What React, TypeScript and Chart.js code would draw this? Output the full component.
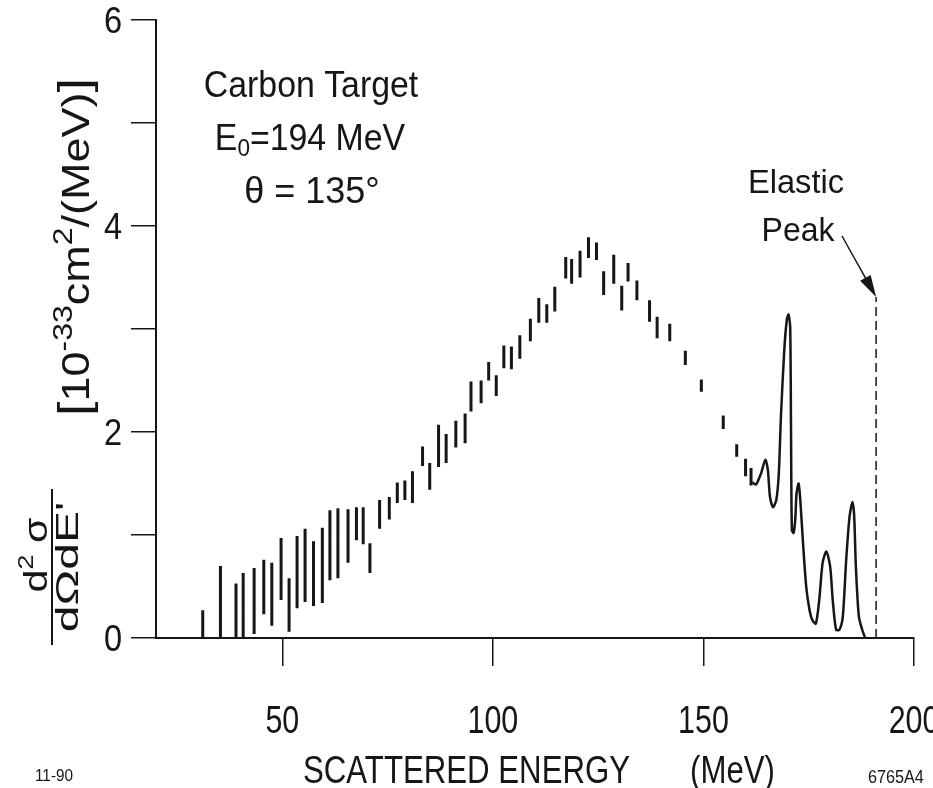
import React, { useEffect, useRef } from "react";
import { Chart, registerables } from "chart.js";

Chart.register(...registerables);

// ---- data ----
const energies = [31.1, 35.3, 39.0, 40.7, 43.3, 45.6, 47.5, 49.7, 51.6, 53.5, 55.4, 57.4, 59.5, 61.3, 63.2, 65.6, 67.6, 69.2, 70.8, 73.1, 75.4, 77.3, 79.1, 80.9, 83.3, 85.0, 87.1, 88.9, 91.2, 93.4, 94.8, 97.2, 99.0, 100.8, 102.6, 104.4, 106.4, 108.9, 110.9, 112.8, 114.7, 117.3, 118.7, 120.7, 122.7, 124.6, 126.3, 128.7, 130.6, 132.1, 134.2, 137.2, 139.0, 142.0, 145.7, 149.5, 154.7, 157.9, 160.0, 161.3];
const lowVals = [0, 0, 0, 0, 0.04, 0.23, 0.12, 0.37, 0.06, 0.29, 0.35, 0.31, 0.34, 0.56, 0.58, 0.73, 0.95, 0.91, 0.63, 1.06, 1.15, 1.31, 1.34, 1.31, 1.67, 1.44, 1.66, 1.70, 1.85, 1.89, 2.20, 2.28, 2.50, 2.35, 2.62, 2.61, 2.71, 2.88, 3.06, 3.06, 3.17, 3.49, 3.44, 3.50, 3.69, 3.67, 3.33, 3.44, 3.18, 3.46, 3.28, 3.07, 2.91, 2.88, 2.65, 2.39, 2.03, 1.76, 1.57, 1.48];
const highVals = [0.27, 0.70, 0.53, 0.63, 0.68, 0.76, 0.73, 0.97, 0.58, 0.99, 1.06, 0.94, 1.07, 1.24, 1.26, 1.25, 1.27, 1.27, 0.92, 1.34, 1.37, 1.51, 1.53, 1.62, 1.86, 1.70, 2.07, 1.98, 2.11, 2.18, 2.49, 2.50, 2.68, 2.55, 2.84, 2.83, 2.94, 3.10, 3.30, 3.24, 3.41, 3.70, 3.68, 3.76, 3.89, 3.84, 3.56, 3.72, 3.42, 3.64, 3.47, 3.28, 3.12, 3.05, 2.79, 2.51, 2.16, 1.88, 1.74, 1.65];

const curveE = [161.6, 162.5, 162.9, 163.7, 164.7, 165.3, 165.8, 166.5, 167.3, 167.9, 168.4, 169.2, 169.8, 170.2, 170.6, 170.8, 171.0, 171.4, 171.8, 172.1, 172.6, 173.0, 173.6, 174.4, 175.2, 175.9, 176.7, 177.5, 178.3, 179.2, 180.1, 180.7, 181.5, 182.3, 183.1, 183.9, 184.7, 185.4, 185.8, 186.2, 186.9, 187.7, 188.4];
const curveY = [1.51, 1.49, 1.52, 1.60, 1.73, 1.63, 1.37, 1.27, 1.34, 1.60, 2.15, 2.80, 3.09, 3.14, 3.02, 1.99, 1.05, 1.02, 1.15, 1.40, 1.50, 1.34, 0.95, 0.50, 0.27, 0.17, 0.14, 0.37, 0.73, 0.84, 0.69, 0.37, 0.08, 0.08, 0.21, 0.76, 1.18, 1.32, 1.18, 0.69, 0.21, 0.08, 0.0];

const elasticE = [191.0, 191.0];
const elasticY = [0, 3.31];

const xTickValues = [50, 100, 150, 200];
const xTickLabels = ["50", "100", "150", "200"];
const yTickValues = [0, 1, 2, 3, 4, 5, 6];
const yLabelValues = [0, 2, 4, 6];
const yLabelTexts = ["0", "2", "4", "6"];

const FONT = "'Liberation Sans', Arial, sans-serif";
const INK = "#161616";

type Seg = { t: string; size: number; dy?: number };

function measureRich(ctx: CanvasRenderingContext2D, segs: Seg[]) {
  return segs.reduce((acc, s) => {
    ctx.font = `${s.size}px ${FONT}`;
    return acc + ctx.measureText(s.t).width;
  }, 0);
}

function drawRich(ctx: CanvasRenderingContext2D, segs: Seg[], x: number, y: number, align: string, sx: number) {
  const widths = segs.map((s) => {
    ctx.font = `${s.size}px ${FONT}`;
    return ctx.measureText(s.t).width * sx;
  });
  const total = widths.reduce((a, b) => a + b, 0);
  let cx = align === "center" ? x - total / 2 : align === "right" ? x - total : x;
  segs.forEach((s, i) => {
    ctx.save();
    ctx.font = `${s.size}px ${FONT}`;
    ctx.textAlign = "left";
    ctx.textBaseline = "alphabetic";
    ctx.translate(cx, y + (s.dy || 0));
    ctx.scale(sx, 1);
    ctx.fillText(s.t, 0, 0);
    ctx.restore();
    cx += widths[i];
  });
  return total;
}

function drawText(ctx: CanvasRenderingContext2D, t: string, x: number, y: number, size: number, align = "left", sx = 0.82) {
  return drawRich(ctx, [{ t, size }], x, y, align, sx);
}

const annotPlugin = {
  id: "annot",
  afterDraw(chart: any) {
    const ctx: CanvasRenderingContext2D = chart.ctx;
    const xs = chart.scales.x;
    const ys = chart.scales.y;
    ctx.save();
    ctx.fillStyle = INK;
    ctx.strokeStyle = INK;

    // y tick labels
    yLabelValues.forEach((v, i) => {
      const py = ys.getPixelForValue(v);
      drawText(ctx, yLabelTexts[i], 122, py + 13, 37, "right", 0.88);
    });
    // x tick labels
    xTickValues.forEach((v, i) => {
      const px = xs.getPixelForValue(v);
      drawText(ctx, xTickLabels[i], px, 733, 38, "center", 0.8);
    });

    // x title
    drawText(ctx, "SCATTERED ENERGY", 303, 783, 39, "left", 0.8);
    drawText(ctx, "(MeV)", 775, 783, 39, "right", 0.8);
    drawText(ctx, "11-90", 35, 781, 17, "left", 0.9);
    drawText(ctx, "6765A4", 868, 783, 18, "left", 0.9);

    // annotations
    drawText(ctx, "Carbon Target", 311, 97, 36, "center", 0.94);
    drawRich(ctx, [{ t: "E", size: 36 }, { t: "0", size: 24, dy: 6 }, { t: "=194 MeV", size: 36 }], 310, 150, "center", 0.94);
    drawText(ctx, "\u03b8 = 135\u00b0", 312, 203, 36, "center", 1.0);
    drawText(ctx, "Elastic", 796, 193, 34, "center", 0.96);
    drawText(ctx, "Peak", 798, 241, 34, "center", 0.94);

    // arrow to elastic peak line
    const ax = xs.getPixelForValue(elasticE[1]);
    const ay = ys.getPixelForValue(elasticY[1]);
    const sxp = 842, syp = 236;
    const ang = Math.atan2(ay - syp, ax - sxp);
    const hl = 22, hw = 6;
    ctx.lineWidth = 1.5;
    ctx.beginPath();
    ctx.moveTo(sxp, syp);
    ctx.lineTo(ax - Math.cos(ang) * hl * 0.8, ay - Math.sin(ang) * hl * 0.8);
    ctx.stroke();
    ctx.beginPath();
    ctx.moveTo(ax, ay);
    ctx.lineTo(ax - Math.cos(ang) * hl - Math.sin(ang) * hw, ay - Math.sin(ang) * hl + Math.cos(ang) * hw);
    ctx.lineTo(ax - Math.cos(ang) * hl + Math.sin(ang) * hw, ay - Math.sin(ang) * hl - Math.cos(ang) * hw);
    ctx.closePath();
    ctx.fill();

    // y axis title (rotated): bracket part
    const bracketSegs: Seg[] = [
      { t: "[", size: 44 },
      { t: "10", size: 38 },
      { t: "-33", size: 27, dy: -17 },
      { t: "cm", size: 38 },
      { t: "2", size: 27, dy: -17 },
      { t: "/(MeV)", size: 38 },
      { t: "]", size: 44 },
    ];
    const bw = measureRich(ctx, bracketSegs);
    ctx.save();
    ctx.translate(89, 416);
    ctx.rotate(-Math.PI / 2);
    drawRich(ctx, bracketSegs, 0, 0, "left", 338 / bw);
    ctx.restore();

    // fraction part
    ctx.save();
    ctx.translate(0, 567);
    ctx.rotate(-Math.PI / 2);
    drawRich(ctx, [{ t: "d", size: 33 }, { t: "2", size: 22, dy: -14 }, { t: " \u03c3", size: 33 }], 12, 47, "center", 1.25);
    ctx.lineWidth = 2;
    ctx.beginPath();
    ctx.moveTo(-78, 52);
    ctx.lineTo(78, 52);
    ctx.stroke();
    drawRich(ctx, [{ t: "d\u03a9dE'", size: 32 }], 0, 78, "center", 1.5);
    ctx.restore();

    ctx.restore();
  },
};

function buildBarPoints() {
  const pts: any[] = [];
  energies.forEach((e, i) => {
    pts.push({ x: e, y: lowVals[i] });
    pts.push({ x: e, y: highVals[i] });
    pts.push({ x: e, y: null });
  });
  return pts;
}

export default function App() {
  const ref = useRef<HTMLCanvasElement | null>(null);
  useEffect(() => {
    document.body.style.margin = "0";
    document.body.style.background = "#ffffff";
    const canvas = ref.current;
    if (!canvas) return;
    const chart = new Chart(canvas, {
      type: "scatter",
      data: {
        datasets: [
          {
            data: buildBarPoints(),
            showLine: true,
            spanGaps: false,
            borderColor: INK,
            borderWidth: 3,
            pointRadius: 0,
            borderCapStyle: "butt",
          } as any,
          {
            data: curveE.map((e, i) => ({ x: e, y: curveY[i] })),
            showLine: true,
            borderColor: INK,
            borderWidth: 2.5,
            pointRadius: 0,
            tension: 0.25,
          } as any,
          {
            data: elasticE.map((e, i) => ({ x: e, y: elasticY[i] })),
            showLine: true,
            borderColor: INK,
            borderWidth: 1.5,
            borderDash: [9, 5],
            pointRadius: 0,
          } as any,
        ],
      },
      options: {
        animation: false,
        responsive: false,
        maintainAspectRatio: false,
        layout: { padding: { top: 20, right: 19, left: 0, bottom: 0 } },
        plugins: { legend: { display: false }, tooltip: { enabled: false } },
        scales: {
          x: {
            type: "linear",
            min: 20,
            max: 200,
            afterBuildTicks: (s: any) => {
              s.ticks = xTickValues.map((v) => ({ value: v }));
            },
            afterFit: (s: any) => {
              s.height = 150;
            },
            ticks: { display: false },
            grid: { drawOnChartArea: false, drawTicks: true, tickLength: 28, color: INK, lineWidth: 1.5 },
            border: { display: true, color: INK, width: 2 },
          },
          y: {
            type: "linear",
            min: 0,
            max: 6,
            afterBuildTicks: (s: any) => {
              s.ticks = yTickValues.map((v) => ({ value: v }));
            },
            afterFit: (s: any) => {
              s.width = 156;
            },
            ticks: { display: false },
            grid: { drawOnChartArea: false, drawTicks: true, tickLength: 25, color: INK, lineWidth: 1.5 },
            border: { display: true, color: INK, width: 2 },
          },
        },
      } as any,
      plugins: [annotPlugin],
    });
    return () => chart.destroy();
  }, []);
  return (
    <div style={{ width: 933, height: 788, background: "#fff" }}>
      <canvas ref={ref} width={933} height={788} style={{ display: "block" }} />
    </div>
  );
}
